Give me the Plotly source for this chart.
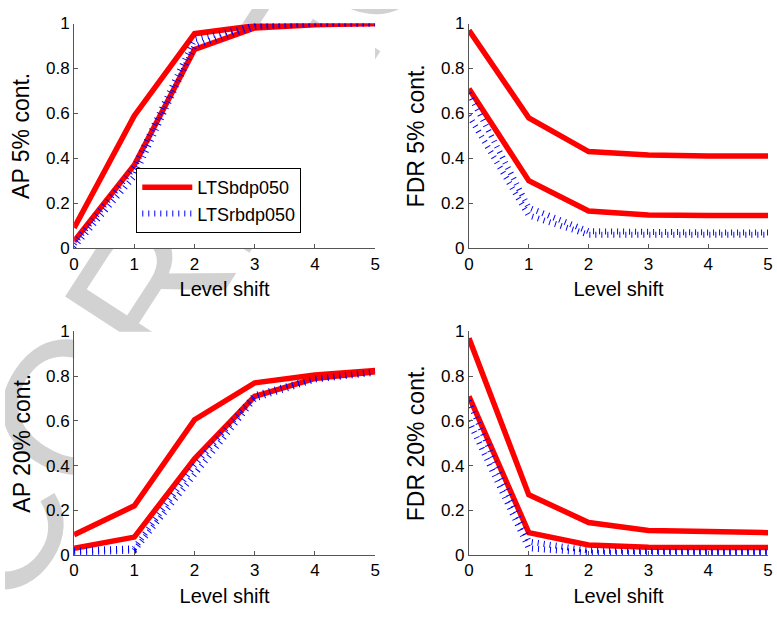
import math
import plotly.graph_objects as go

# ---------------- data ----------------
level_shift = [0, 1, 2, 3, 4, 5]

ap5_red_upper = [0.09, 0.59, 0.955, 0.99, 1.0, 1.0]
ap5_red_lower = [0.03, 0.37, 0.885, 0.98, 0.995, 1.0]
ap5_blue_upper = [0.02, 0.36, 0.93, 0.99, 1.0, 1.0]
ap5_blue_lower = [0.005, 0.32, 0.90, 0.985, 0.998, 1.0]

fdr5_red_upper = [0.97, 0.58, 0.43, 0.415, 0.41, 0.41]
fdr5_red_lower = [0.71, 0.30, 0.165, 0.148, 0.145, 0.145]
fdr5_blue_upper = [0.69, 0.18, 0.075, 0.07, 0.07, 0.07]
fdr5_blue_lower = [0.59, 0.145, 0.06, 0.06, 0.06, 0.06]

ap20_red_upper = [0.09, 0.22, 0.605, 0.77, 0.805, 0.825]
ap20_red_lower = [0.03, 0.08, 0.43, 0.71, 0.79, 0.82]
ap20_blue_upper = [0.02, 0.03, 0.40, 0.715, 0.79, 0.82]
ap20_blue_lower = [0.01, 0.02, 0.36, 0.70, 0.785, 0.815]

fdr20_red_upper = [0.97, 0.27, 0.145, 0.11, 0.105, 0.10]
fdr20_red_lower = [0.71, 0.10, 0.045, 0.035, 0.033, 0.033]
fdr20_blue_upper = [0.69, 0.06, 0.02, 0.015, 0.015, 0.015]
fdr20_blue_lower = [0.60, 0.03, 0.01, 0.01, 0.01, 0.01]

x_range = [0, 5]
y_range = [0, 1]
y_tick_vals = [0, 0.2, 0.4, 0.6, 0.8, 1]
y_tick_text = ["0", "0.2", "0.4", "0.6", "0.8", "1"]
x_tick_vals = [0, 1, 2, 3, 4, 5]

panel_titles = ["AP 5% cont.", "FDR 5% cont.", "AP 20% cont.", "FDR 20% cont."]
x_title = "Level shift"
legend_names = ["LTSbdp050", "LTSrbdp050"]
watermark_text = "UNCORRECTED PROOF"

panels = [
    (ap5_red_upper, ap5_red_lower, ap5_blue_upper, ap5_blue_lower),
    (fdr5_red_upper, fdr5_red_lower, fdr5_blue_upper, fdr5_blue_lower),
    (ap20_red_upper, ap20_red_lower, ap20_blue_upper, ap20_blue_lower),
    (fdr20_red_upper, fdr20_red_lower, fdr20_blue_upper, fdr20_blue_lower),
]

# ---------------- figure ----------------
W, H = 777, 618
FONT = "Liberation Sans, Arial, Helvetica, sans-serif"
RED = "#ff0000"
BLUE = "#0000ff"
AXIS_COLOR = "#555555"
WM_COLOR = "#d2d2d2"

xdomains = [[70 / W, 375 / W], [470 / W, 773 / W]]
ydomains = [[(H - 246.7) / H, (H - 15) / H], [(H - 563.3) / H, (H - 332.7) / H]]

fig = go.Figure()

# empty trace so the full-page watermark subplot (x/y) is created first
fig.add_trace(go.Scatter(x=[], y=[], xaxis="x", yaxis="y", showlegend=False, hoverinfo="skip"))


def ax_ids(i):
    return f"x{i + 2}", f"y{i + 2}"


for i, (ru, rl, bu, bl) in enumerate(panels):
    xa, ya = ax_ids(i)
    for k, ys in enumerate([ru, rl]):
        fig.add_trace(go.Scatter(
            x=level_shift, y=ys, mode="lines", xaxis=xa, yaxis=ya,
            line=dict(color=RED, width=5.5),
            name=legend_names[0], legendgroup="red",
            showlegend=(i == 0 and k == 0),
        ))
for i, (ru, rl, bu, bl) in enumerate(panels):
    xa, ya = ax_ids(i)
    for k, ys in enumerate([bu, bl]):
        fig.add_trace(go.Scatter(
            x=level_shift, y=ys, mode="lines", xaxis=xa, yaxis=ya,
            line=dict(color=BLUE, width=6, dash="1px,5px"),
            name=legend_names[1], legendgroup="blue",
            showlegend=(i == 0 and k == 0),
        ))

layout = dict(
    width=W, height=H,
    margin=dict(l=0, r=0, t=0, b=0),
    paper_bgcolor="white", plot_bgcolor="rgba(0,0,0,0)",
    font=dict(family=FONT, size=17, color="black"),
    showlegend=True,
    legend=dict(
        x=133 / W, y=(H - 164) / H, xanchor="left", yanchor="top",
        bgcolor="white", bordercolor="black", borderwidth=1,
        font=dict(family=FONT, size=18, color="black"),
        itemwidth=50, tracegroupgap=0,
    ),
    xaxis=dict(domain=[0, 1], range=[0, W], visible=False, fixedrange=True),
    yaxis=dict(domain=[0, 1], range=[H, 0], visible=False, fixedrange=True),
)

# watermark: label of an invisible line on the full-page subplot, drawn
# below the white plot areas of the four panels (as in the reference)
wm_cx, wm_cy, wm_angle, wm_size = 392, -134, 57, 190
dx, dy = 100 * math.cos(math.radians(wm_angle)), 100 * math.sin(math.radians(wm_angle))
shapes = [dict(
    type="line", xref="x", yref="y", layer="below",
    x0=wm_cx - dx, y0=wm_cy + dy, x1=wm_cx + dx, y1=wm_cy - dy,
    line=dict(color="rgba(0,0,0,0)", width=1),
    label=dict(text=watermark_text, textposition="middle", textangle=-wm_angle,
               xanchor="center", yanchor="middle", padding=0,
               font=dict(family=FONT, size=wm_size, color=WM_COLOR)),
)]

for i in range(4):
    r, c = divmod(i, 2)
    xa_id, ya_id = ax_ids(i)
    xk = "xaxis" + xa_id[1:]
    yk = "yaxis" + ya_id[1:]
    layout[xk] = dict(
        domain=xdomains[c], anchor=ya_id, range=x_range,
        tickvals=x_tick_vals, ticks="inside", ticklen=4, tickcolor=AXIS_COLOR,
        showline=True, linecolor=AXIS_COLOR, linewidth=1,
        showgrid=False, zeroline=False,
        tickfont=dict(family=FONT, size=17, color="black"),
        title=dict(text=x_title, font=dict(family=FONT, size=20, color="black"), standoff=9),
    )
    layout[yk] = dict(
        domain=ydomains[r], anchor=xa_id, range=y_range,
        tickvals=y_tick_vals, ticktext=y_tick_text,
        ticks="inside", ticklen=4, tickcolor=AXIS_COLOR,
        showline=True, linecolor=AXIS_COLOR, linewidth=1,
        showgrid=False, zeroline=False,
        tickfont=dict(family=FONT, size=17, color="black"),
        title=dict(text=panel_titles[i], font=dict(family=FONT, size=23, color="black"), standoff=9),
    )
    # white plot-area background, drawn inside this panel (above the watermark)
    shapes.append(dict(
        type="rect", xref=xa_id, yref=ya_id, layer="below",
        x0=x_range[0], x1=x_range[1], y0=y_range[0], y1=y_range[1],
        fillcolor="white", line=dict(width=0),
    ))

layout["shapes"] = shapes
fig.update_layout(**layout)

fig.write_html("out.html")
